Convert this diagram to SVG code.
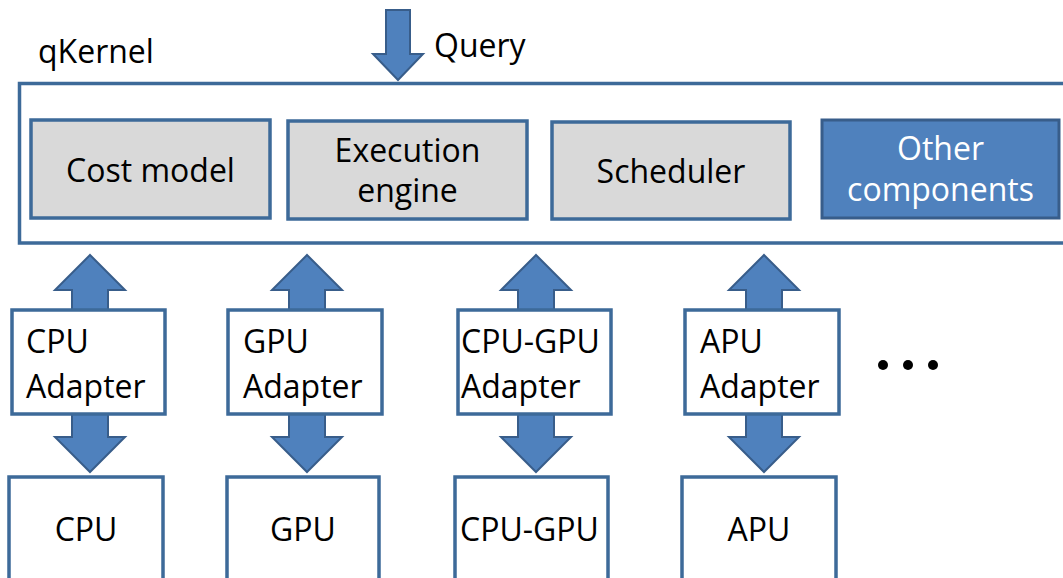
<svg xmlns="http://www.w3.org/2000/svg" width="1063" height="578" viewBox="0 0 1063 578">
  <style>
    .lbl { font-family: "Open Sans", "Liberation Sans", sans-serif; font-size: 32px; fill: #000000; }
    .mid { text-anchor: middle; }
    .white { fill: #ffffff; }
    .frame { fill: #ffffff; stroke: #3D6A99; stroke-width: 3.5; }
    .comp { fill: #D9D9D9; stroke: #3D6A99; stroke-width: 3.5; }
    .comp-blue { fill: #4F81BD; stroke: #385D8A; stroke-width: 3; }
    .box { fill: #ffffff; stroke: #3D6A99; stroke-width: 3.5; }
    .arrow { fill: #4F81BD; stroke: #385D8A; stroke-width: 2; stroke-linejoin: miter; }
  </style>
  <defs>
    <!-- vertical double arrow centred on x=0, from y=255 up-tip to y=472 down-tip -->
    <polygon id="dbl" points="0,255 35,290 18,290 18,437 35,437 0,472 -35,437 -18,437 -18,290 -35,290"/>
  </defs>

  <rect width="1063" height="578" fill="#ffffff"/>

  <!-- qKernel container -->
  <g id="qkernel">
    <rect class="frame" x="19.5" y="83.5" width="1060" height="159.5"/>
    <text class="lbl" x="38" y="63" font-size="30">qKernel</text>
  </g>

  <!-- connectors -->
  <g id="connectors">
    <polygon id="query-arrow" class="arrow" points="386,10 410,10 410,54 423,54 398,80 373,54 386,54"/>
    <use href="#dbl" class="arrow" x="90"/>
    <use href="#dbl" class="arrow" x="307"/>
    <use href="#dbl" class="arrow" x="536"/>
    <use href="#dbl" class="arrow" x="764"/>
  </g>

  <text id="query-label" class="lbl" x="434" y="57">Query</text>

  <!-- kernel components -->
  <g id="cost-model">
    <rect class="comp" x="31" y="120" width="239" height="98"/>
    <text class="lbl mid" x="150.5" y="182">Cost model</text>
  </g>
  <g id="execution-engine">
    <rect class="comp" x="288" y="121" width="239" height="98"/>
    <text class="lbl mid" x="407.5" y="162">Execution</text>
    <text class="lbl mid" x="407.5" y="202">engine</text>
  </g>
  <g id="scheduler">
    <rect class="comp" x="552" y="122" width="238" height="97"/>
    <text class="lbl mid" x="671" y="183">Scheduler</text>
  </g>
  <g id="other-components">
    <rect class="comp-blue" x="822" y="120" width="237" height="98"/>
    <text class="lbl mid white" x="940.5" y="160">Other</text>
    <text class="lbl mid white" x="940.5" y="201">components</text>
  </g>

  <!-- adapters -->
  <g id="cpu-adapter">
    <rect class="box" x="12" y="310" width="153" height="104"/>
    <text class="lbl" x="26" y="353">CPU</text>
    <text class="lbl" x="26" y="398">Adapter</text>
  </g>
  <g id="gpu-adapter">
    <rect class="box" x="228" y="310" width="154" height="104"/>
    <text class="lbl" x="243" y="353">GPU</text>
    <text class="lbl" x="243" y="398">Adapter</text>
  </g>
  <g id="cpu-gpu-adapter">
    <rect class="box" x="458" y="310" width="153" height="104"/>
    <text class="lbl" x="461" y="353">CPU-GPU</text>
    <text class="lbl" x="461" y="398">Adapter</text>
  </g>
  <g id="apu-adapter">
    <rect class="box" x="685" y="310" width="154" height="104"/>
    <text class="lbl" x="700" y="353">APU</text>
    <text class="lbl" x="700" y="398">Adapter</text>
  </g>

  <!-- devices -->
  <g id="cpu">
    <rect class="box" x="9" y="477" width="154" height="120"/>
    <text class="lbl mid" x="86" y="541">CPU</text>
  </g>
  <g id="gpu">
    <rect class="box" x="227" y="477" width="152" height="120"/>
    <text class="lbl mid" x="303" y="541">GPU</text>
  </g>
  <g id="cpu-gpu">
    <rect class="box" x="455" y="477" width="153" height="120"/>
    <text class="lbl" x="460" y="541">CPU-GPU</text>
  </g>
  <g id="apu">
    <rect class="box" x="682" y="477" width="154" height="120"/>
    <text class="lbl mid" x="759" y="541">APU</text>
  </g>

  <!-- ellipsis -->
  <g id="more" fill="#000000">
    <circle cx="883" cy="365" r="5"/>
    <circle cx="908" cy="365" r="5"/>
    <circle cx="933" cy="365" r="5"/>
  </g>
</svg>
